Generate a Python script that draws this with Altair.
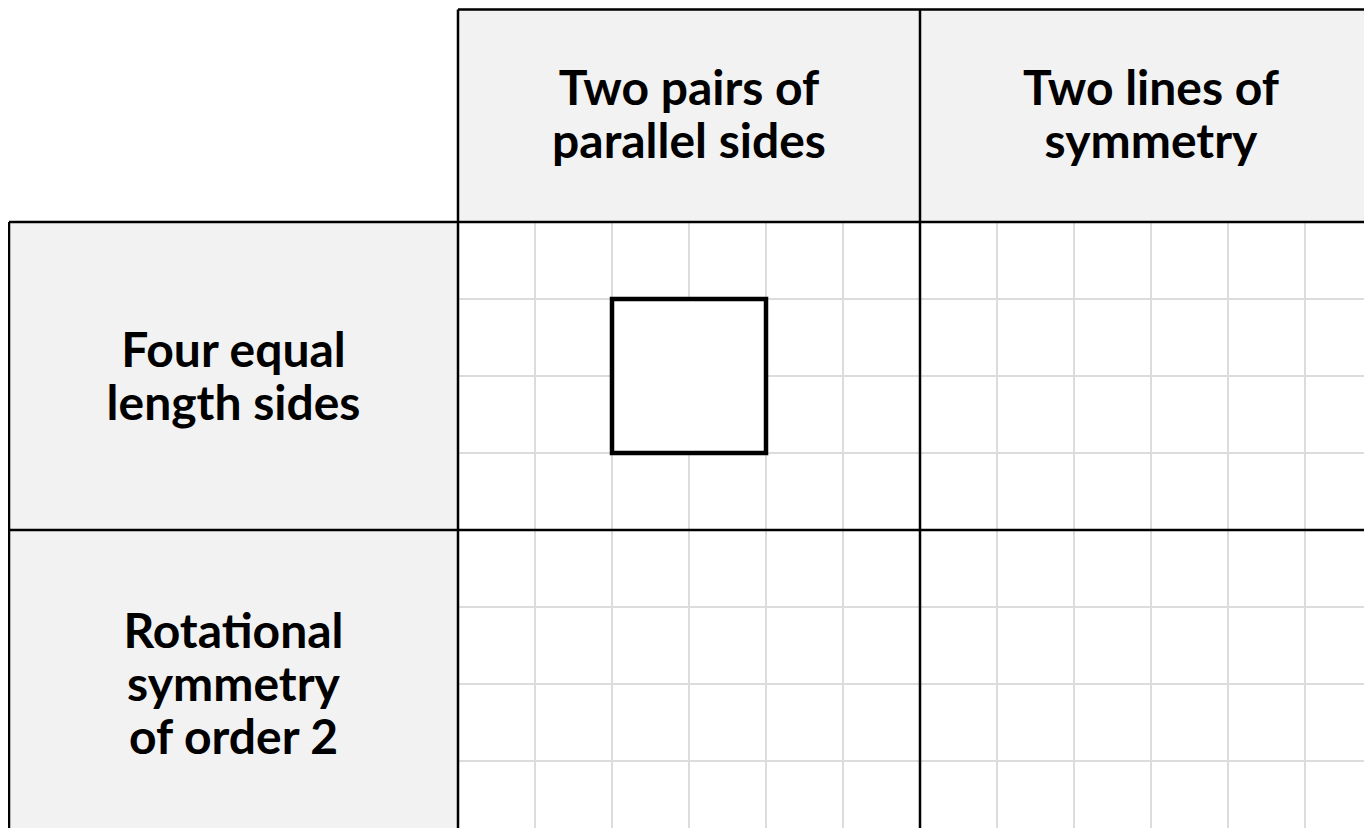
import altair as alt
import pandas as pd

# ---- content ----
col_headers = ["Two pairs of\nparallel sides", "Two lines of\nsymmetry"]
row_headers = ["Four equal\nlength sides", "Rot\u200cational\nsymmetry\nof order 2"]
# square drawn in the first cell, in grid units
square_x = [2, 4]
square_y = [1, 3]

# ---- layout (grid units; one unit = 77 px) ----
PX = 77.0
W, H = 1356, 820
CELL_W, CELL_H = 6, 4
LEFT = -5.831       # left edge of the row-header column
TOP = -2.80         # top edge of the column-header row
TOP_LINE = -2.759
X_DOMAIN = [-450 / PX, (W - 450) / PX]
Y_DOMAIN = [-214 / PX, (H - 214) / PX]
FONT_SIZE, LINE_H, CAP = 48, 53, 17

ncol, nrow = len(col_headers), len(row_headers)
x_end = ncol * CELL_W
y_end = nrow * CELL_H

xs = alt.Scale(domain=X_DOMAIN, nice=False, zero=False)
ys = alt.Scale(domain=Y_DOMAIN, nice=False, zero=False, reverse=True)


def enc():
    return dict(
        x=alt.X("x:Q", scale=xs, axis=None), x2=alt.X2("x2"),
        y=alt.Y("y:Q", scale=ys, axis=None), y2=alt.Y2("y2"),
    )


# header fills
hdr = []
for i in range(ncol):
    hdr.append(dict(x=i * CELL_W, x2=(i + 1) * CELL_W, y=TOP, y2=0))
for j in range(nrow):
    hdr.append(dict(x=LEFT, x2=0, y=j * CELL_H, y2=(j + 1) * CELL_H))
hdr_df = pd.DataFrame(hdr)

# grid lines
grid = []
for gx in range(0, x_end + 1):
    if gx % CELL_W:
        grid.append(dict(x=gx, x2=gx, y=0, y2=y_end))
for gy in range(0, y_end + 1):
    if gy % CELL_H:
        grid.append(dict(x=0, x2=x_end, y=gy, y2=gy))
grid_df = pd.DataFrame(grid)

# borders
bd = [dict(x=0, x2=x_end, y=TOP_LINE, y2=TOP_LINE),
      dict(x=LEFT, x2=LEFT, y=0, y2=y_end)]
for i in range(ncol + 1):
    bd.append(dict(x=i * CELL_W, x2=i * CELL_W, y=TOP_LINE, y2=y_end))
for j in range(nrow + 1):
    bd.append(dict(x=LEFT, x2=x_end, y=j * CELL_H, y2=j * CELL_H))
bd_df = pd.DataFrame(bd)

sq_df = pd.DataFrame([dict(x=square_x[0], x2=square_x[1], y=square_y[0], y2=square_y[1])])

# labels
lab = []
for i, t in enumerate(col_headers):
    n = t.count("\n") + 1
    cy = TOP / 2
    lab.append(dict(label=t, x=(i + 0.5) * CELL_W,
                    y=cy - (n - 1) * LINE_H / 2 / PX + CAP / PX))
for j, t in enumerate(row_headers):
    n = t.count("\n") + 1
    cy = (j + 0.5) * CELL_H
    lab.append(dict(label=t, x=LEFT / 2,
                    y=cy - (n - 1) * LINE_H / 2 / PX + CAP / PX))
lab_df = pd.DataFrame(lab)

fills = alt.Chart(hdr_df).mark_rect(color="#f2f2f2", clip=True).encode(**enc())
grids = alt.Chart(grid_df).mark_rule(color="#dcdcdc", strokeWidth=2, clip=True).encode(**enc())
borders = alt.Chart(bd_df).mark_rule(color="#000000", strokeWidth=2.5, clip=True).encode(**enc())
square = alt.Chart(sq_df).mark_rect(fill="white", stroke="black", strokeWidth=4.5).encode(**enc())
texts = alt.Chart(lab_df).mark_text(
    font="Lato", fontSize=FONT_SIZE, fontWeight="bold", color="black",
    align="center", baseline="alphabetic", lineBreak="\n", lineHeight=LINE_H,
).encode(x=alt.X("x:Q", scale=xs, axis=None), y=alt.Y("y:Q", scale=ys, axis=None), text="label:N")

chart = alt.layer(fills, grids, borders, square, texts).properties(
    width=W, height=H, autosize=alt.AutoSizeParams(type="none"), padding=0,
    background="white",
).configure_view(strokeWidth=0)

chart.save("out.html", embed_options={"renderer": "svg", "actions": False})
